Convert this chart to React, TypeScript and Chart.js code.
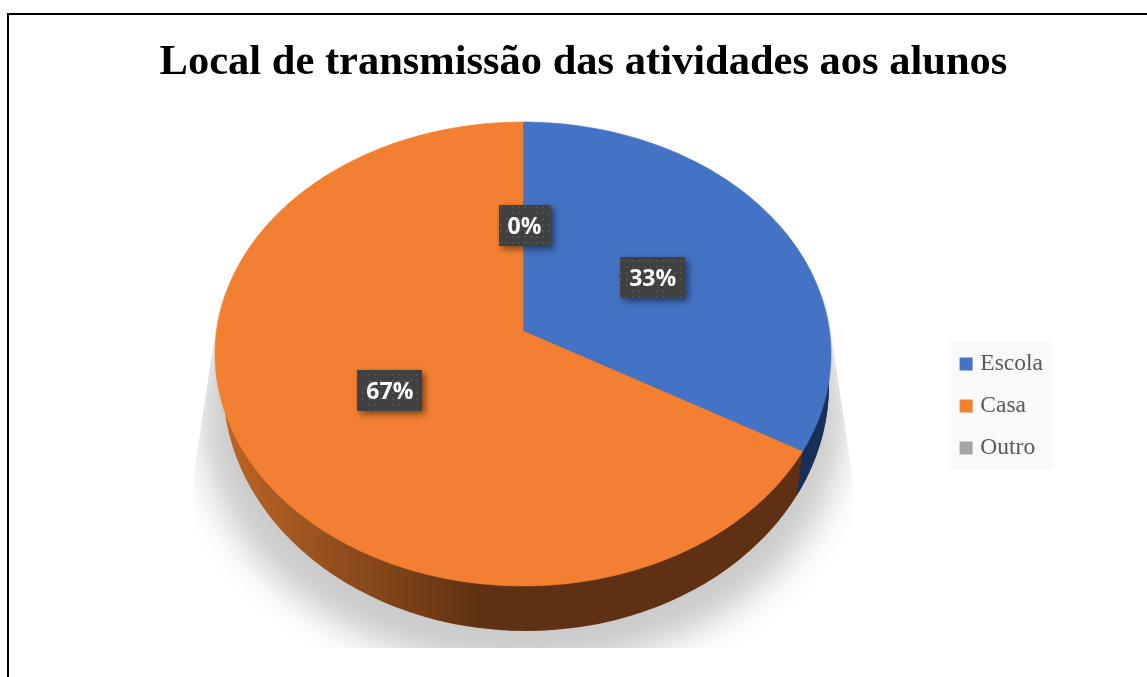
import React, { useEffect, useRef } from "react";
import { Chart, registerables, ArcElement, PieController } from "chart.js";

const categories = ["Escola", "Casa", "Outro"];
const shares = [33.3, 66.7, 0];
const sliceColors = ["#4472c4", "#f38032", "#a5a5a5"];
const titleText = "Local de transmissão das atividades aos alunos";

// Projective view of the pie disc, tilted away from the viewer
const APEX = { x: 523, y: 331 };
const VIEW = { b: 306.5, a: 229.7, k: -0.0991 };
const TOP_ELLIPSE = { cx: 523, cy: 354, rx: 308, ry: 232 };
const WALL_ELLIPSE = { cx: 526, cy: 385, rx: 303, ry: 246 };
const WALL_DEPTH = 45;

function project(theta: number, r: number) {
  const X = Math.sin(theta) * r;
  const Y = -Math.cos(theta) * r;
  const d = 1 + VIEW.k * Y;
  return { x: APEX.x + (VIEW.b * X) / d, y: APEX.y + (VIEW.a * Y) / d };
}

class Arc3D extends ArcElement {
  static id = "arc3d";
  draw(ctx: CanvasRenderingContext2D) {
    const a0 = (this as any).startAngle + Math.PI / 2;
    const a1 = (this as any).endAngle + Math.PI / 2;
    if (a1 - a0 < 1e-4) return;
    const steps = Math.ceil(((a1 - a0) / (Math.PI * 2)) * 360);
    const color = (this as any).options.backgroundColor;
    ctx.save();
    ctx.beginPath();
    ctx.moveTo(APEX.x, APEX.y);
    for (let i = 0; i <= steps; i++) {
      const p = project(a0 + ((a1 - a0) * i) / steps, 1);
      ctx.lineTo(p.x, p.y);
    }
    ctx.closePath();
    ctx.fillStyle = color;
    ctx.strokeStyle = color;
    ctx.lineWidth = 0.6;
    ctx.fill();
    ctx.stroke();
    ctx.restore();
  }
}

class Pie3D extends PieController {
  static id = "pie3d";
  static defaults = { ...(PieController as any).defaults, dataElementType: "arc3d" };
}

Chart.register(...registerables, Arc3D, Pie3D as any);

const legendPanel = {
  id: "legendPanel",
  beforeDraw(chart: any) {
    const hb = chart.legend?.legendHitBoxes;
    if (!hb?.length) return;
    const ctx = chart.ctx;
    const last = hb[hb.length - 1];
    ctx.save();
    ctx.fillStyle = "#f9f9f9";
    const top = hb[0].top - 10;
    ctx.fillRect(hb[0].left - 15, top, 104, last.top + last.height + 10 - top);
    ctx.restore();
  },
};

const pieBody = {
  id: "pieBody",
  beforeDatasetsDraw(chart: any) {
    const ctx: CanvasRenderingContext2D = chart.ctx;
    const arcs = chart.getDatasetMeta(0).data;
    // soft cast shadow, cut off by its picture frame
    ctx.save();
    ctx.beginPath();
    ctx.moveTo(220, 300);
    ctx.lineTo(826, 300);
    ctx.lineTo(853, 480);
    ctx.lineTo(853, 648);
    ctx.lineTo(193, 648);
    ctx.lineTo(193, 480);
    ctx.closePath();
    ctx.clip();
    (ctx as any).filter = "blur(17px)";
    ctx.fillStyle = "#cbcbcb";
    ctx.beginPath();
    ctx.ellipse(523, 418, 322, 250, 0, 0, Math.PI * 2);
    ctx.fill();
    ctx.restore();

    // side wall
    const W = WALL_ELLIPSE;
    const wall = ctx.createLinearGradient(225, 0, 480, 0);
    wall.addColorStop(0, "#bc6525");
    wall.addColorStop(1, "#5f3112");
    ctx.save();
    ctx.fillStyle = wall;
    ctx.beginPath();
    ctx.ellipse(W.cx, W.cy, W.rx, W.ry, 0, 0, Math.PI * 2);
    ctx.fill();
    // first slice's side wall, right of its end edge
    const P = project(arcs[0].endAngle + Math.PI / 2, 1);
    const T = TOP_ELLIPSE;
    const Q = { x: P.x - (P.x - T.cx) * 0.0214, y: P.y + WALL_DEPTH };
    const dx = Q.x - P.x;
    const dy = Q.y - P.y;
    ctx.beginPath();
    ctx.moveTo(P.x - dx * 4, P.y - dy * 4);
    ctx.lineTo(Q.x + dx * 4, Q.y + dy * 4);
    ctx.lineTo(1000, Q.y + dy * 4);
    ctx.lineTo(1000, P.y - dy * 4);
    ctx.closePath();
    ctx.clip();
    ctx.fillStyle = "#182f58";
    ctx.beginPath();
    ctx.ellipse(W.cx, W.cy, W.rx, W.ry, 0, 0, Math.PI * 2);
    ctx.fill();
    ctx.restore();
  },
};

function dotPattern(ctx: CanvasRenderingContext2D) {
  const c = document.createElement("canvas");
  c.width = 6;
  c.height = 6;
  const g = c.getContext("2d")!;
  g.fillStyle = "#404040";
  g.fillRect(0, 0, 6, 6);
  g.fillStyle = "#505050";
  g.fillRect(2, 2, 2, 2);
  return ctx.createPattern(c, "repeat")!;
}

const sliceLabels = {
  id: "sliceLabels",
  afterDatasetsDraw(chart: any) {
    const ctx: CanvasRenderingContext2D = chart.ctx;
    const arcs = chart.getDatasetMeta(0).data;
    const pattern = dotPattern(ctx);
    ctx.save();
    ctx.font = "700 23px 'Open Sans'";
    ctx.textAlign = "center";
    ctx.textBaseline = "middle";
    arcs.forEach((arc: any, i: number) => {
      const mid = (arc.startAngle + arc.endAngle) / 2 + Math.PI / 2;
      const px = project(mid, 0.495).x + 1.5;
      const py = project(mid, 0.49).y + 1.5;
      const text = `${Math.round(shares[i])}%`;
      const w = ctx.measureText(text).width + 18;
      const h = 41;
      const x = Math.round(px - w / 2);
      const y = Math.round(py - h / 2);
      ctx.save();
      ctx.shadowColor = "rgba(0,0,0,0.5)";
      ctx.shadowBlur = 7;
      ctx.shadowOffsetX = 3;
      ctx.shadowOffsetY = 3;
      ctx.fillStyle = pattern;
      ctx.fillRect(x, y, Math.round(w), h);
      ctx.restore();
      ctx.fillStyle = "#ffffff";
      ctx.fillText(text, px, py + 2);
    });
    ctx.restore();
  },
};

export default function App() {
  const ref = useRef<HTMLCanvasElement>(null);
  useEffect(() => {
    const chart = new Chart(ref.current!, {
      type: "pie3d" as any,
      data: {
        labels: categories,
        datasets: [
          { data: shares, backgroundColor: sliceColors, borderWidth: 0, clip: false } as any,
        ],
      },
      options: {
        animation: false,
        responsive: false,
        events: [],
        layout: { padding: { left: 114, right: 114, bottom: -135 } },
        plugins: {
          title: {
            display: true,
            text: titleText,
            color: "#000000",
            font: { family: "'Liberation Serif'", size: 42.5, weight: "bold", lineHeight: 1.2 },
            padding: { top: 38, bottom: 44 },
          },
          legend: {
            position: "right",
            labels: {
              usePointStyle: true,
              pointStyle: "rect",
              boxWidth: 5,
              boxHeight: 13,
              padding: 18.5,
              color: "#595959",
              font: { family: "'Liberation Serif'", size: 23.5 },
            },
          },
          tooltip: { enabled: false },
        },
      } as any,
      plugins: [legendPanel, pieBody, sliceLabels],
    });
    return () => chart.destroy();
  }, []);
  return (
    <div
      style={{
        position: "fixed",
        left: 0,
        top: 0,
        width: 1147,
        height: 677,
        overflow: "hidden",
        background: "#ffffff",
      }}
    >
      <canvas
        ref={ref}
        width={1167}
        height={677}
        style={{ display: "block", position: "absolute", left: 0, top: 0 }}
      />
      <div
        style={{
          position: "absolute",
          left: 7,
          top: 13,
          width: 1300,
          height: 800,
          border: "2px solid #000000",
          boxSizing: "border-box",
        }}
      />
    </div>
  );
}
